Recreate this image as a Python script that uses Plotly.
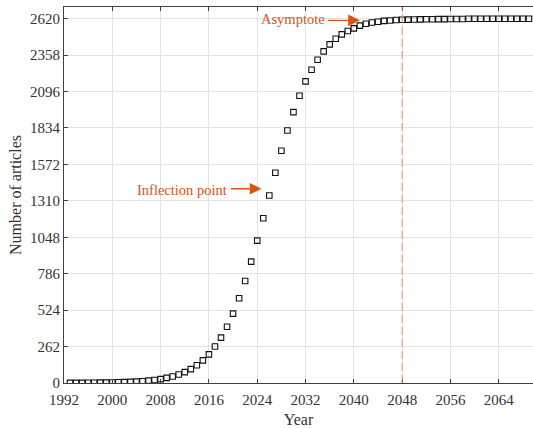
import plotly.graph_objects as go

# ---- data ----
years = list(range(1993, 2070))
articles = [
    1, 1, 1, 2, 2, 3, 3, 4, 5, 6, 8, 10, 13, 17,
    22, 28, 37, 47, 61, 78, 100, 128, 163, 206, 262, 326, 405, 499, 609, 734,
    873, 1024, 1185, 1348,
    1512, 1670, 1816, 1948, 2066, 2169, 2253, 2325, 2385, 2435, 2476, 2507,
    2531, 2550, 2570, 2584, 2593, 2598, 2604, 2607, 2610, 2612,
    2613, 2614, 2615, 2616, 2616, 2617, 2617, 2618, 2618, 2618, 2619, 2619,
    2619, 2619, 2619, 2620, 2620, 2620, 2620, 2620, 2620,
]
x_ticks = [1992, 2000, 2008, 2016, 2024, 2032, 2040, 2048, 2056, 2064]
y_ticks = [0, 262, 524, 786, 1048, 1310, 1572, 1834, 2096, 2358, 2620]
asymptote_year = 2048

ACCENT = "#D95319"
FONT = "Liberation Serif"
AXIS = "#404040"

fig = go.Figure()
fig.add_trace(go.Scatter(
    x=years, y=articles, mode="markers",
    marker=dict(symbol="square-open", size=5.5, color="#111111",
                line=dict(width=1.1, color="#111111")),
    showlegend=False, hoverinfo="x+y",
))

fig.add_shape(type="line", xref="x", yref="paper", x0=asymptote_year, x1=asymptote_year,
              y0=0, y1=1, line=dict(color="rgba(232,120,80,0.8)", width=1, dash="8px,4px"),
              layer="above")

# annotations
fig.add_annotation(x=2035.5, y=2620, xref="x", yref="y", text="Asymptote",
                   showarrow=False, xanchor="right", yanchor="middle",
                   font=dict(family=FONT, size=14.5, color=ACCENT))
fig.add_annotation(x=2041.0, y=2608, ax=2035.5, ay=2608, xref="x", yref="y",
                   axref="x", ayref="y", text="", showarrow=True,
                   arrowhead=2, arrowsize=1.8, arrowwidth=1.3, arrowcolor=ACCENT)
fig.add_annotation(x=2019.4, y=1385, xref="x", yref="y", text="Inflection point",
                   showarrow=False, xanchor="right", yanchor="middle",
                   font=dict(family=FONT, size=14.5, color=ACCENT))
fig.add_annotation(x=2024.7, y=1397, ax=2019.4, ay=1397, xref="x", yref="y",
                   axref="x", ayref="y", text="", showarrow=True,
                   arrowhead=2, arrowsize=1.8, arrowwidth=1.3, arrowcolor=ACCENT)

fig.update_layout(
    width=533, height=428,
    margin=dict(l=64, r=0, t=7, b=45),
    paper_bgcolor="white", plot_bgcolor="white",
    font=dict(family=FONT, size=15, color="#333333"),
    xaxis=dict(
        range=[1992, 2069.67], tickvals=x_ticks, ticktext=[str(v) for v in x_ticks],
        showgrid=True, gridcolor="#E3E3E3", gridwidth=1,
        showline=True, linecolor=AXIS, linewidth=1, mirror="ticks",
        ticks="inside", ticklen=4, tickcolor=AXIS, zeroline=False, automargin=False,
        ticklabelstandoff=3,
        title=dict(text="Year", standoff=6, font=dict(size=16)),
    ),
    yaxis=dict(
        range=[0, 2704], tickvals=y_ticks, ticktext=[str(v) for v in y_ticks],
        showgrid=True, gridcolor="#E3E3E3", gridwidth=1,
        showline=True, linecolor=AXIS, linewidth=1,
        ticks="inside", ticklen=4, tickcolor=AXIS, zeroline=False, automargin=False,
        title=dict(text="Number of articles", standoff=4, font=dict(size=16)),
    ),
)

fig.write_html("out.html", config={"displayModeBar": False},
               post_script="document.body.style.margin='0';")
